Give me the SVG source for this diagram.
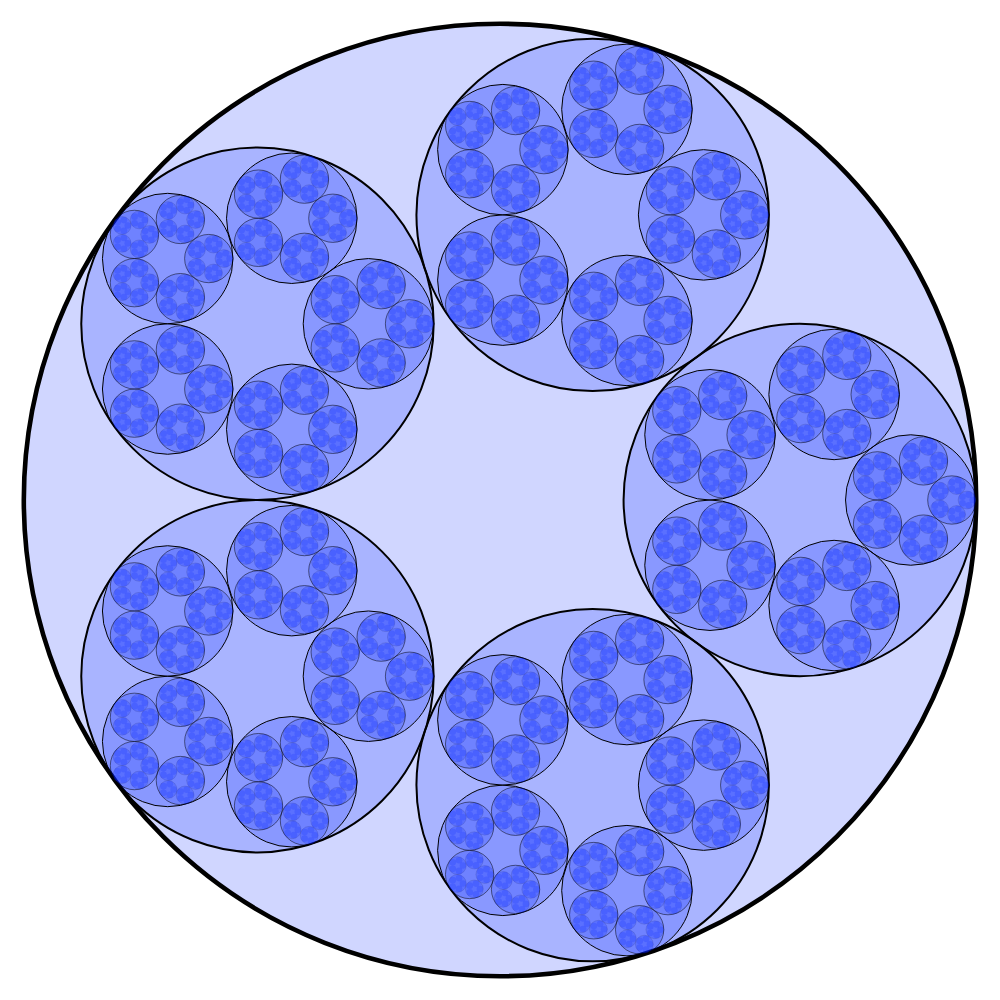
<svg xmlns="http://www.w3.org/2000/svg" xmlns:xlink="http://www.w3.org/1999/xlink" width="1000" height="1000" viewBox="0 0 1000 1000">
<style>
circle{fill:#0020ff;fill-opacity:0.185;stroke:#000}
.l0{stroke-width:4.6}
.l1{stroke-width:2}
.l2{stroke-width:1}
.l3{stroke-width:0.5}
.l4{stroke-width:0.2;stroke-opacity:0.5}
.l5{stroke:none}
</style>
<defs>
<g id="L5"><circle class="l5" r="3.310"/></g>
<g id="L4"><circle class="l4" r="8.940"/>
<use href="#L5" x="5.631" y="0"/>
<use href="#L5" x="1.740" y="5.355"/>
<use href="#L5" x="1.740" y="-5.355"/>
<use href="#L5" x="-4.556" y="3.310"/>
<use href="#L5" x="-4.556" y="-3.310"/>
</g>
<g id="L3"><circle class="l3" r="24.150"/>
<use href="#L4" x="15.209" y="0"/>
<use href="#L4" x="4.700" y="14.465"/>
<use href="#L4" x="4.700" y="-14.465"/>
<use href="#L4" x="-12.304" y="8.940"/>
<use href="#L4" x="-12.304" y="-8.940"/>
</g>
<g id="L2"><circle class="l2" r="65.234"/>
<use href="#L3" x="41.084" y="0"/>
<use href="#L3" x="12.696" y="39.073"/>
<use href="#L3" x="12.696" y="-39.073"/>
<use href="#L3" x="-33.238" y="24.149"/>
<use href="#L3" x="-33.238" y="-24.149"/>
</g>
<g id="L1"><circle class="l1" r="176.214"/>
<use href="#L2" x="110.980" y="0"/>
<use href="#L2" x="34.295" y="105.548"/>
<use href="#L2" x="34.295" y="-105.548"/>
<use href="#L2" x="-89.785" y="65.232"/>
<use href="#L2" x="-89.785" y="-65.232"/>
</g>
</defs>
<g id="fractal">
<circle class="l0" cx="500" cy="500" r="476.2"/>
<use href="#L1" x="799.786" y="500"/>
<use href="#L1" x="592.641" y="785.117"/>
<use href="#L1" x="592.641" y="214.883"/>
<use href="#L1" x="257.464" y="676.211"/>
<use href="#L1" x="257.464" y="323.789"/>
</g>
</svg>
